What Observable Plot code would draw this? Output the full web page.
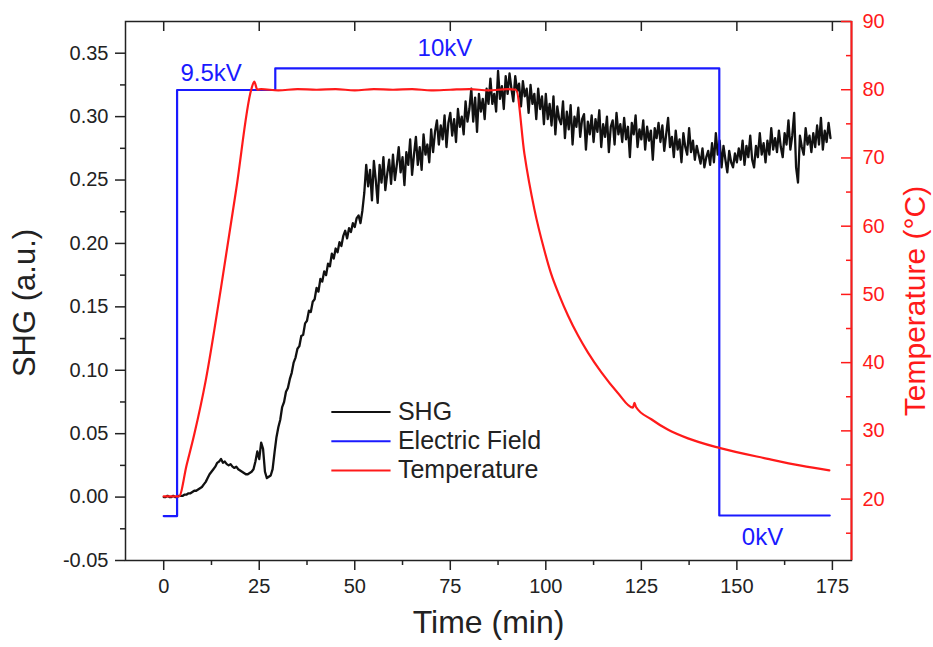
<!DOCTYPE html>
<html><head><meta charset="utf-8">
<script src="https://cdn.jsdelivr.net/npm/d3@7"></script>
<script src="https://cdn.jsdelivr.net/npm/@observablehq/plot@0.6"></script>
<style>body{margin:0;background:#fff} #chart svg{display:block}</style>
</head><body><div id="chart"></div>
<script>
// SHG signal (a.u.), sampled every 0.5 min from t = 0
const shgValues = [
0.000,0.000,0.001,0.000,0.000,0.001,0.000,0.000,0.001,0.001,0.001,0.002,0.002,0.003,0.003,0.004,0.005,0.005,0.006,0.007,
0.008,0.010,0.012,0.015,0.018,0.020,0.022,0.024,0.027,0.028,0.030,0.027,0.028,0.026,0.025,0.026,0.024,0.023,0.024,0.022,
0.021,0.020,0.019,0.018,0.018,0.019,0.020,0.022,0.028,0.036,0.030,0.043,0.038,0.020,0.015,0.016,0.017,0.022,0.035,0.047,
0.055,0.061,0.071,0.075,0.083,0.086,0.093,0.098,0.106,0.110,0.117,0.119,0.127,0.128,0.137,0.139,0.147,0.146,0.154,0.156,
0.165,0.162,0.172,0.170,0.178,0.175,0.184,0.182,0.192,0.188,0.196,0.193,0.201,0.198,0.206,0.210,0.204,0.212,0.209,0.216,
0.213,0.220,0.222,0.216,0.226,0.240,0.262,0.245,0.258,0.234,0.265,0.250,0.232,0.262,0.248,0.268,0.242,0.255,0.266,0.247,
0.270,0.250,0.262,0.276,0.256,0.268,0.246,0.272,0.262,0.282,0.254,0.270,0.284,0.262,0.276,0.258,0.286,0.270,0.278,0.264,
0.290,0.272,0.288,0.297,0.278,0.293,0.282,0.301,0.276,0.295,0.303,0.285,0.298,0.280,0.306,0.292,0.300,0.286,0.312,0.296,
0.306,0.322,0.296,0.315,0.288,0.318,0.304,0.314,0.298,0.322,0.310,0.330,0.310,0.318,0.304,0.336,0.314,0.324,0.306,0.332,
0.318,0.334,0.322,0.312,0.332,0.320,0.326,0.308,0.328,0.316,0.322,0.303,0.325,0.310,0.318,0.298,0.322,0.306,0.316,0.294,
0.318,0.298,0.310,0.293,0.316,0.286,0.308,0.298,0.294,0.312,0.283,0.304,0.290,0.309,0.278,0.300,0.292,0.307,0.284,0.298,
0.302,0.274,0.296,0.286,0.301,0.280,0.298,0.288,0.305,0.276,0.294,0.284,0.300,0.272,0.292,0.297,0.278,0.303,0.286,0.294,
0.280,0.299,0.282,0.292,0.268,0.295,0.286,0.301,0.276,0.290,0.282,0.297,0.274,0.292,0.281,0.289,0.266,0.291,0.283,0.295,
0.280,0.293,0.273,0.286,0.299,0.276,0.284,0.268,0.289,0.274,0.282,0.264,0.287,0.276,0.270,0.291,0.272,0.281,0.266,0.277,
0.270,0.263,0.275,0.260,0.268,0.273,0.262,0.279,0.264,0.287,0.270,0.281,0.260,0.277,0.266,0.256,0.273,0.264,0.260,0.271,
0.264,0.275,0.266,0.281,0.262,0.277,0.268,0.285,0.266,0.260,0.277,0.268,0.287,0.270,0.279,0.264,0.281,0.270,0.291,0.274,
0.283,0.272,0.289,0.276,0.268,0.287,0.278,0.297,0.274,0.285,0.303,0.260,0.248,0.285,0.276,0.270,0.291,0.278,0.285,0.272,
0.287,0.276,0.293,0.278,0.299,0.274,0.289,0.280,0.295,0.283
];
const shgTime = shgValues.map((_, i) => i * 0.5);

// Electric field trace (drawn in SHG units)
const fieldTime  = [0, 3.5, 3.5, 29.2, 29.2, 145.4, 145.4, 174.3];
const fieldValue = [-0.015, -0.015, 0.321, 0.321, 0.338, 0.338, -0.0145, -0.0145];

// Temperature (°C)
const tempTime  = [0, 4, 6, 8, 11, 15, 19, 22.9, 23.7, 24.5, 25.5, 30, 35, 40, 45, 50, 55, 60, 65, 70, 75, 80, 85, 90, 92.2, 94.4, 97, 99.6, 101.4, 103.5, 105.8, 108.4, 111, 114.5, 118.8, 122.8, 123.2, 123.6, 127.6, 131.9, 137.2, 145.4, 158.1, 166.8, 174.2];
const tempValue = [20.4, 20.4, 25.0, 29.5, 37.4, 51.0, 65.5, 80.0, 81.2, 80.0, 80.1, 79.9, 80.1, 80.0, 80.1, 79.9, 80.1, 80.0, 80.1, 79.9, 80.0, 80.1, 79.9, 80.1, 80.0, 70.6, 62.5, 56.5, 53.0, 49.9, 46.9, 44.0, 41.5, 38.6, 35.6, 33.4, 34.1, 33.5, 31.7, 30.2, 28.9, 27.5, 25.9, 24.9, 24.2];

// Axes
const xMajor = [0, 25, 50, 75, 100, 125, 150, 175];
const xMinor = [12.5, 37.5, 62.5, 87.5, 112.5, 137.5, 162.5];
const yMajor = [-0.05, 0, 0.05, 0.10, 0.15, 0.20, 0.25, 0.30, 0.35];
const yMinor = [-0.025, 0.025, 0.075, 0.125, 0.175, 0.225, 0.275, 0.325];
const tempMajor = [20, 30, 40, 50, 60, 70, 80, 90];
const tempMinor = [15, 25, 35, 45, 55, 65, 75, 85];

// Annotations and legend
const fieldLabels = ["9.5kV", "10kV", "0kV"];
const fieldLabelTime = [12.4, 73.6, 156.7];
const legendLabels = ["SHG", "Electric Field", "Temperature"];
const legendColors = ["#111111", "#1a1aff", "#ff1a1a"];

const shgDomain = [-0.05, 0.375];
const tempDomain = [11, 90];
const toShg = d3.scaleLinear(tempDomain, shgDomain);

const shg = shgValues.map((v, i) => ({t: shgTime[i], v}));
const field = fieldValue.map((v, i) => ({t: fieldTime[i], v}));
const temp = tempValue.map((T, i) => ({t: tempTime[i], T}));

const BLUE = "#1a1aff", RED = "#ff1a1a", INK = "#222";
const legendY = [0.067, 0.044, 0.021];

const plot = Plot.plot({
  width: 933, height: 647,
  marginLeft: 125, marginRight: 82, marginTop: 21, marginBottom: 87,
  style: {fontFamily: "'Liberation Sans', Arial, sans-serif", fontSize: "20px", color: INK, background: "white"},
  x: {domain: [-10, 180]},
  y: {domain: shgDomain},
  marks: [
    Plot.line(shg, {x: "t", y: "v", stroke: "#111", strokeWidth: 2.3}),
    Plot.line(field, {x: "t", y: "v", stroke: BLUE, strokeWidth: 2.2}),
    Plot.line(temp, {x: "t", y: d => toShg(d.T), stroke: RED, strokeWidth: 2.2, curve: "monotone-x"}),
    Plot.frame({stroke: INK, strokeWidth: 1.5}),
    // bottom axis
    Plot.axisX(xMajor, {tickSize: 10, tickPadding: 8, strokeWidth: 1.5, tickFormat: d => String(d), label: null}),
    Plot.axisX(xMinor, {tickSize: 5, strokeWidth: 1.5, tickFormat: () => "", label: null}),
    // top inward ticks
    Plot.ruleX(xMajor, {insetBottom: 529, stroke: INK, strokeWidth: 1.5}),
    // left axis
    Plot.axisY(yMajor, {tickSize: 10, tickPadding: 7, strokeWidth: 1.5, tickFormat: d => d.toFixed(2), label: null}),
    Plot.axisY(yMinor, {tickSize: 5, strokeWidth: 1.5, tickFormat: () => "", label: null}),
    // right temperature axis
    Plot.ruleX([180], {stroke: RED, strokeWidth: 2}),
    Plot.ruleY(tempMajor, {y: d => toShg(d), insetLeft: 716, stroke: RED, strokeWidth: 1.5}),
    Plot.ruleY(tempMinor, {y: d => toShg(d), insetLeft: 721, stroke: RED, strokeWidth: 1.5}),
    Plot.text(tempMajor, {x: 180, y: d => toShg(d), text: d => String(d), dx: 11, textAnchor: "start", fill: RED, fontSize: 20}),
    // titles
    Plot.text(["Time (min)"], {frameAnchor: "bottom", dy: 72, fontSize: 32, fill: INK}),
    Plot.text(["SHG (a.u.)"], {frameAnchor: "left", textAnchor: "middle", dx: -100, dy: 12, rotate: -90, fontSize: 31, fill: INK}),
    Plot.text(["Temperature (°C)"], {frameAnchor: "right", textAnchor: "middle", dx: 64, dy: 10, rotate: -90, fontSize: 30, fill: RED}),
    // field annotations
    Plot.text([fieldLabels[0]], {x: fieldLabelTime[0], y: fieldValue[2], dy: -17, text: d => d, fill: BLUE, fontSize: 24}),
    Plot.text([fieldLabels[1]], {x: fieldLabelTime[1], y: fieldValue[4], dy: -20, text: d => d, fill: BLUE, fontSize: 24}),
    Plot.text([fieldLabels[2]], {x: fieldLabelTime[2], y: fieldValue[6], dy: 22, text: d => d, fill: BLUE, fontSize: 24}),
    // legend
    ...legendLabels.flatMap((lab, i) => [
      Plot.ruleY([legendY[i]], {x1: 44, x2: 59.5, stroke: legendColors[i], strokeWidth: 2}),
      Plot.text([lab], {x: 61.3, y: legendY[i], text: d => d, textAnchor: "start", fill: INK, fontSize: 25})
    ])
  ]
});
document.getElementById("chart").appendChild(plot);
</script>
</body></html>
